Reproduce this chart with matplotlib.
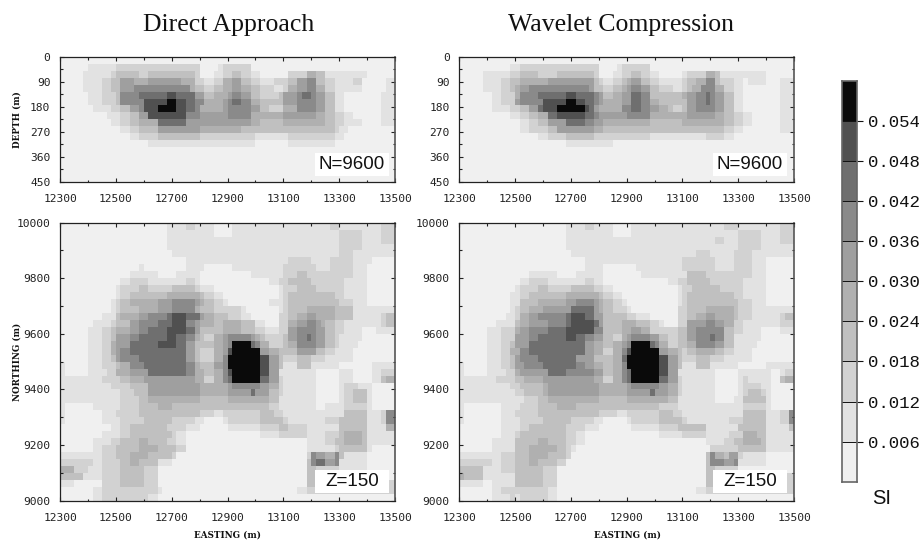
import numpy as np
import matplotlib
matplotlib.use('Agg')
import matplotlib.pyplot as plt
from matplotlib.colors import ListedColormap, BoundaryNorm

# every row: first level, then level@column where it changes (72 columns)
N_COLS = 72

section_direct = [
    "0",
    "0 1@6 2@12 0@30 1@34 2@35 0@41",
    "0 1@5 2@11 3@12 2@17 3@19 2@29 0@30 1@33 2@35 3@37 2@39 1@41 0@43 2@49 4@53 3@55 1@57 0@66",
    "0 1@5 2@9 3@11 5@13 4@16 5@19 4@26 2@29 1@31 2@33 4@35 5@37 3@39 2@41 1@43 2@46 3@49 5@51 6@53 3@55 2@57 1@59 2@63 0@65 1@70",
    "0 1@5 2@9 3@11 5@13 6@16 4@28 3@29 2@31 3@33 4@35 5@37 4@39 3@41 2@43 1@46 2@48 4@49 5@51 6@53 4@55 2@57 1@59 0@65 1@70",
    "0 1@6 2@9 3@12 6@13 7@17 8@23 7@25 5@29 3@31 4@33 5@36 6@37 5@39 3@41 2@43 3@47 5@48 6@51 7@52 6@54 5@55 3@57 1@59 0@61 1@69",
    "0 1@6 2@9 3@12 6@13 8@18 9@23 8@25 7@27 6@29 4@31 5@35 6@36 7@37 6@39 4@41 3@43 5@48 6@51 5@55 3@57 1@59 0@61 1@69",
    "0 1@7 2@11 3@13 5@15 6@17 8@18 9@21 8@25 7@27 6@29 4@30 5@35 6@36 5@41 3@43 2@45 4@48 6@51 5@55 3@57 1@59 0@61 1@69",
    "0 1@10 2@13 3@15 5@17 8@19 6@27 5@30 6@36 4@41 5@48 4@55 3@57 2@59 1@61 0@63 1@69",
    "0 1@11 2@13 3@15 4@17 7@21 5@27 4@41 3@43 4@48 3@57 2@59 1@61 0@65 1@69",
    "0 1@13 2@15 3@17 5@21 4@30 3@39 2@59 1@60 0@62",
    "0 1@15 2@17 3@21 2@30 1@42 2@49 1@59 0@61",
    "0 1@19 0@42 1@49 0@59",
    "0", "0", "0", "0", "0",
]

section_wavelet = [
    "0",
    "0 1@11 2@13 0@30 1@34 2@35 0@41",
    "0 1@5 2@11 3@13 2@17 3@21 2@29 0@30 1@33 2@35 3@37 2@39 1@41 0@43 1@48 2@49 4@53 3@55 1@56 0@66",
    "0 1@5 2@9 3@11 4@13 5@19 3@29 2@30 1@31 2@33 3@35 4@36 5@37 3@39 2@41 1@43 2@48 3@49 4@51 6@53 3@55 2@56 1@59 0@61 1@62 0@66 1@69",
    "0 1@5 2@9 3@11 4@12 5@13 6@15 5@28 3@29 2@31 3@33 4@35 5@36 6@37 5@39 3@41 2@43 1@46 2@48 3@49 4@50 6@52 4@55 2@57 1@59 0@61 1@69",
    "0 1@7 2@9 4@12 6@13 7@17 8@23 7@25 6@29 5@30 3@31 4@33 5@35 7@37 6@39 3@41 4@48 5@49 6@51 7@53 6@54 5@55 3@57 1@59 0@61 1@69",
    "0 1@7 2@9 5@12 6@13 8@18 9@23 8@25 7@27 6@29 5@30 4@31 5@35 7@37 6@39 4@41 3@43 5@49 6@51 7@53 6@54 5@55 3@57 1@59 0@61 1@69",
    "0 1@7 2@11 3@13 5@15 7@17 8@18 9@21 8@27 7@28 5@29 4@30 6@35 7@37 6@39 5@41 4@43 3@45 2@46 3@48 5@49 6@51 5@55 3@57 1@59 0@61 1@69",
    "0 1@11 2@13 3@15 4@17 7@19 8@21 7@27 6@29 5@30 6@36 4@41 5@49 4@55 3@57 2@59 1@61 0@63 1@69",
    "0 1@13 2@15 3@17 5@19 7@23 6@27 5@29 4@31 3@41 4@48 3@57 2@59 1@61 0@63 1@69",
    "0 1@13 2@15 3@19 5@21 4@29 3@31 2@57 1@59 0@61 1@69",
    "0 1@17 2@19 3@23 2@29 1@41 2@53 1@57 0@59",
    "0 1@23 0@33",
    "0", "0", "0", "0", "0",
]

plan_direct = [
    "0 1@23 2@27 1@29 0@33 1@37 2@58 1@60 2@69",
    "0 1@23 0@33 1@37 2@60 1@65 2@69",
    "0 1@23 2@60 1@65 2@69",
    "0 1@23 2@60 1@65",
    "0 1@24 2@60 1@63",
    "0 1@27 2@49 1@54 2@58 1@63 0@67",
    "0 1@17 0@18 1@27 0@31 1@37 2@48 1@55 2@58 1@63 0@66",
    "0 1@15 0@21 1@25 0@30 1@41 2@48 3@51 2@53 1@63 0@66",
    "0 1@13 2@15 1@19 2@27 1@29 0@30 1@45 2@47 3@49 2@54 1@61 0@66",
    "0 1@12 2@13 3@17 2@19 3@24 2@29 1@30 0@33 1@47 2@48 3@51 2@55 1@61 0@66",
    "0 1@12 2@13 3@15 4@23 3@30 2@31 1@33 0@35 1@47 2@48 3@49 2@59 1@61 0@66",
    "0 1@11 2@12 3@13 4@15 5@21 6@24 5@29 4@30 3@31 2@33 1@35 0@36 1@45 2@48 3@49 2@60 1@63 0@66",
    "0 1@11 2@12 3@13 4@17 5@21 6@24 4@29 3@30 2@33 1@39 0@40 1@47 2@48 3@49 3@51 4@53 3@59 1@63",
    "0 1@9 3@12 4@13 5@17 6@19 7@23 8@24 7@27 5@30 4@31 3@33 2@36 1@39 0@41 2@47 3@49 4@51 5@53 4@55 3@59 1@63 2@69 3@70",
    "0 1@7 2@11 3@12 5@15 6@17 7@21 8@24 6@27 5@29 4@30 3@33 4@35 3@39 1@42 0@44 2@47 4@49 5@51 6@53 5@55 4@56 3@57 2@59 1@61 2@69 3@70",
    "0 1@6 2@9 3@11 4@12 5@15 6@17 7@19 8@23 7@27 5@29 3@30 4@35 3@39 2@42 1@44 2@47 5@49 6@51 5@55 3@57 2@59 1@61 0@65 1@68",
    "0 1@6 2@9 3@11 5@12 6@15 7@17 8@23 7@25 6@27 4@29 3@30 2@31 4@33 5@35 6@36 5@41 4@42 3@43 2@44 3@48 5@49 6@51 7@53 6@54 5@55 3@57 2@59 1@60 0@65",
    "0 1@6 2@9 4@11 5@12 7@15 8@21 7@25 5@27 3@29 4@33 5@35 6@36 9@37 7@41 6@42 4@43 2@45 3@48 4@49 6@51 5@55 3@57 2@59 1@60 0@64",
    "0 1@6 2@9 4@11 5@12 6@13 7@15 5@27 3@29 2@30 4@33 5@35 8@36 9@37 5@43 4@45 3@47 5@51 3@55 2@57 1@59 0@63",
    "0 1@6 2@9 3@11 5@12 6@13 7@17 5@27 3@29 2@30 4@33 6@35 9@36 8@43 5@45 3@47 2@48 3@51 2@54 1@57 0@63",
    "1 0@1 1@6 2@9 3@12 4@13 6@15 7@18 6@27 4@29 3@30 5@33 6@35 9@36 8@43 5@45 3@47 1@48 3@51 1@54 0@60 1@67",
    "1 0@1 1@6 2@10 4@12 5@15 7@19 6@27 4@29 3@31 4@33 6@35 8@36 9@37 8@43 5@45 1@47 0@55 1@60 0@63 1@67 2@69",
    "1 2@9 3@13 4@15 5@18 4@29 2@31 4@33 6@35 7@36 9@37 7@43 5@45 2@47 1@48 0@55 1@60 0@63 1@67 3@69 4@70",
    "1 2@11 3@15 5@19 4@30 5@36 6@37 5@43 4@45 2@47 1@48 0@55 1@60 2@61 1@64 0@67",
    "1 2@13 3@16 5@19 4@30 5@36 7@41 5@42 3@45 2@47 1@48 0@55 1@60 2@61 3@63 1@66 0@67",
    "1 2@13 3@17 4@19 3@30 4@36 3@45 1@47 0@55 1@60 2@61 3@63 1@66 0@67",
    "1 0@1 1@7 2@13 3@17 4@21 3@24 2@45 1@47 0@55 1@57 2@61 1@66 0@67",
    "1 0@1 1@9 2@12 3@17 2@30 1@33 2@35 3@43 2@46 1@48 3@61 1@66 2@69 6@70",
    "1 0@1 1@9 2@13 3@18 2@24 1@29 0@31 1@35 2@36 3@43 2@48 1@49 2@57 3@60 1@66 2@69 6@70",
    "0 1@11 2@13 3@15 2@23 1@27 0@30 1@36 2@43 3@47 2@49 1@53 3@60 1@66 4@70",
    "0 1@9 2@13 3@15 2@24 1@25 0@27 1@43 2@47 1@53 2@57 3@60 4@61 3@65 1@66",
    "0 1@7 2@11 3@13 4@17 3@19 2@23 1@25 0@27 1@53 2@57 3@59 4@61 3@65 1@66",
    "0 1@7 2@9 3@12 4@17 3@21 2@25 0@27 1@53 2@59 3@60 1@66 0@67",
    "1 2@9 3@12 4@15 3@19 2@24 0@25 2@53 6@54 5@55 4@57 6@59 3@60 1@61 0@66",
    "2 1@7 2@9 3@13 4@15 3@17 1@21 0@24 3@53 6@54 7@55 5@57 6@59 1@60 0@66",
    "4 2@3 1@6 2@9 3@13 2@18 0@21 3@53 2@55 1@60 0@66",
    "3 1@5 2@9 3@13 2@18 0@21 3@53 2@55 0@60",
    "1 0@3 2@9 3@13 2@18 0@21 3@53 2@55",
    "0 1@7 2@9 1@21 0@22 1@51 2@53",
    "0 1@7 2@9 1@19 0@21",
]

plan_wavelet = [
    "0 1@23 2@27 1@29 0@33 1@37 2@57 1@60 2@69",
    "0 1@23 0@33 1@37 2@60 1@65 2@69",
    "0 1@23 2@55 1@57 2@60 1@65 2@69",
    "0 1@23 2@60 1@65",
    "0 1@24 2@51 1@54 2@59 1@63",
    "0 1@27 2@48 1@55 2@59 1@63 0@66",
    "0 1@27 0@31 1@38 2@48 1@55 2@59 1@63 0@66",
    "0 1@15 0@21 1@25 0@31 1@39 3@49 2@53 1@63 0@66",
    "0 1@13 2@15 1@19 2@27 1@29 0@31 1@45 2@47 3@49 2@54 1@61 0@66",
    "0 1@12 2@13 3@17 2@19 3@24 2@29 1@31 0@33 1@47 2@48 3@50 2@56 1@61 0@66",
    "0 1@11 2@13 3@15 4@23 3@30 2@31 1@33 0@35 1@47 2@48 3@49 2@59 1@61 0@66",
    "0 1@11 3@13 4@17 5@23 6@25 5@29 4@30 3@31 2@33 1@35 0@36 1@47 2@48 3@49 2@60 1@63 0@66",
    "0 1@11 2@12 3@13 4@15 5@18 7@24 5@29 4@30 3@31 2@33 1@36 0@37 2@47 3@49 4@53 3@59 2@60 1@63",
    "0 1@10 2@12 4@13 5@15 6@17 7@23 8@24 7@27 5@29 3@31 2@36 1@38 0@41 2@47 3@49 4@51 5@53 4@55 3@59 2@60 1@63 2@69 3@70",
    "0 1@8 3@12 4@13 5@15 6@19 7@23 8@24 7@29 5@30 3@31 4@35 3@38 2@41 1@43 0@44 2@47 5@49 6@53 5@55 4@57 2@59 1@61 2@69",
    "0 1@6 2@9 4@12 5@13 6@15 7@19 8@23 6@29 3@31 4@35 5@37 4@39 2@41 3@47 5@49 6@51 3@57 2@59 1@61 0@65 1@69",
    "0 1@6 2@9 5@12 6@15 7@17 8@23 7@25 6@27 5@29 3@31 2@33 4@35 5@36 6@37 5@41 3@43 2@45 3@47 5@49 6@51 7@54 6@55 3@57 1@59 0@65",
    "0 1@6 2@9 3@11 5@12 7@15 5@27 4@29 3@31 4@33 5@35 6@36 9@37 7@41 6@42 4@43 2@45 3@47 4@49 6@51 5@55 3@57 1@59 0@64",
    "0 1@6 2@9 4@11 6@13 7@15 5@27 4@29 2@31 4@33 6@35 8@36 9@37 5@43 4@45 3@47 2@48 3@49 4@51 3@55 2@57 1@59 0@63",
    "0 1@6 2@9 3@11 5@12 6@13 7@17 5@25 3@29 4@33 7@35 9@36 8@43 5@45 3@47 2@48 3@51 2@54 1@57 0@63",
    "1 0@1 1@6 2@9 3@11 5@12 6@14 7@18 6@25 5@27 4@29 3@31 4@33 6@35 9@36 8@43 5@45 3@47 1@48 3@51 1@54 0@60 1@66",
    "1 0@1 1@6 2@10 4@12 5@13 7@19 6@23 5@29 3@31 4@33 6@35 7@36 9@37 8@43 5@45 1@47 0@55 1@60 0@67 1@69 2@70",
    "1 2@8 3@12 4@14 5@18 4@29 2@31 4@33 6@35 7@36 9@37 7@43 5@45 2@47 1@48 0@55 1@60 2@61 1@62 0@67 3@69 4@70",
    "1 2@11 3@13 4@18 5@19 4@30 5@36 6@37 5@43 4@45 2@47 1@48 0@55 1@60 2@61 1@65 0@67",
    "1 2@12 3@14 4@18 5@19 4@30 5@36 7@41 5@42 4@45 2@47 1@48 0@55 1@60 2@61 3@62 2@65 1@66 0@67",
    "1 2@14 3@17 4@19 3@30 4@36 3@45 1@47 0@55 1@59 3@61 1@66 0@67",
    "1 0@1 1@9 2@13 3@17 4@21 3@25 2@43 1@47 2@61 1@66 0@67",
    "1 0@1 1@9 2@12 3@17 2@30 1@34 2@36 3@43 2@46 1@48 3@61 1@66 2@69 6@71",
    "1 0@1 1@9 2@13 3@18 2@24 1@29 0@31 1@36 2@37 3@43 2@48 1@49 2@58 3@61 1@66 2@69 6@71",
    "0 1@9 2@13 3@15 2@23 1@27 0@30 1@37 2@43 3@47 1@53 3@60 1@66 3@71",
    "0 1@9 2@12 3@13 2@23 1@25 0@27 1@43 2@48 1@53 2@58 4@61 3@64 1@66",
    "0 1@7 3@12 4@17 3@19 2@23 1@25 0@27 1@53 2@57 3@59 4@61 3@65 1@66",
    "0 1@7 3@12 4@15 3@21 2@23 1@24 0@25 2@54 3@60 1@66",
    "1 2@9 3@12 4@15 3@19 2@23 0@24 3@53 6@54 4@55 3@57 5@58 2@60 1@61 0@66",
    "2 1@7 2@9 3@12 4@15 3@17 2@21 0@23 3@53 6@54 5@57 6@59 1@60 0@66",
    "3 1@5 2@9 3@12 2@18 0@21 3@53 2@55 0@60",
    "4 3@1 1@5 3@12 2@18 0@21 3@53 2@55",
    "1 0@5 1@7 3@12 2@18 0@21 3@53 2@55",
    "0 1@7 2@9 1@19 0@21 1@51 2@53",
    "0 1@7 2@11 1@12 2@13 1@19 0@21",
]

gray_levels = ['#f0f0f0', '#e2e2e2', '#d2d2d2', '#c0c0c0', '#b0b0b0',
               '#9f9f9f', '#8a8a8a', '#6f6f6f', '#505050', '#0a0a0a']
si_bounds = [0.0, 0.006, 0.012, 0.018, 0.024, 0.030, 0.036, 0.042, 0.048, 0.054, 0.060]
si_ticks = [0.006, 0.012, 0.018, 0.024, 0.030, 0.036, 0.042, 0.048, 0.054]

easting_ticks = [12300, 12500, 12700, 12900, 13100, 13300, 13500]
depth_ticks = [0, 90, 180, 270, 360, 450]
northing_ticks = [9000, 9200, 9400, 9600, 9800, 10000]

W, H = 924, 542
cmap = ListedColormap(gray_levels)
norm = BoundaryNorm(si_bounds, cmap.N)
MONO = 'DejaVu Sans Mono'


def parse_rows(rows):
    grid = np.zeros((len(rows), N_COLS))
    for i, row in enumerate(rows):
        parts = row.split()
        grid[i, :] = int(parts[0])
        for part in parts[1:]:
            level, col = part.split('@')
            grid[i, int(col):] = int(level)
    return (grid + 0.5) * 0.006


def add_axes_px(left, top, right, bottom):
    return fig.add_axes([left / W, 1 - bottom / H, (right - left) / W, (bottom - top) / H])


def draw_panel(ax, rows, y_top, y_bottom, y_major, y_minor, note, note_xy):
    grid = parse_rows(rows)
    x_edges = np.linspace(easting_ticks[0], easting_ticks[-1], N_COLS + 1)
    y_edges = np.linspace(y_top, y_bottom, len(rows) + 1)
    ax.pcolormesh(x_edges, y_edges, grid, cmap=cmap, norm=norm, rasterized=True)
    ax.set_xlim(easting_ticks[0], easting_ticks[-1])
    ax.set_ylim(y_bottom, y_top)
    ax.set_xticks(easting_ticks)
    ax.set_xticks(np.arange(12400, 13500, 200), minor=True)
    ax.set_yticks(y_major)
    ax.set_yticks(y_minor, minor=True)
    ax.tick_params(which='major', direction='in', top=True, right=True, length=3.2,
                   width=0.8, color='#222222', labelsize=8.1, pad=7)
    ax.tick_params(which='minor', direction='in', top=True, right=True, length=1.8,
                   width=0.8, color='#222222')
    ax.tick_params(axis='x', which='major', pad=9)
    for label in ax.get_xticklabels() + ax.get_yticklabels():
        label.set_family(MONO)
        label.set_color('#222222')
    for spine in ax.spines.values():
        spine.set_linewidth(0.9)
        spine.set_color('#222222')
    ax.spines['right'].set_color('#555555')
    ax.spines['right'].set_linewidth(1.2)
    box = plt.Rectangle(((note_xy[0] - 37) / W, 1 - (note_xy[1] + 11.5) / H), 74 / W, 23 / H,
                        transform=fig.transFigure, fc='white', ec='none', zorder=5)
    ax.add_patch(box)
    ax.text(note_xy[0] / W, 1 - note_xy[1] / H, note, transform=fig.transFigure,
            family='Liberation Sans', fontsize=13.5, ha='center', va='center',
            color='#111111', zorder=6)


fig = plt.figure(figsize=(W / 100, H / 100), dpi=100)

ax_a = add_axes_px(60, 57, 395, 181.7)
ax_b = add_axes_px(459.3, 57, 794, 181.7)
ax_c = add_axes_px(60, 222.7, 395, 500.7)
ax_d = add_axes_px(459.3, 222.7, 794, 500.7)

draw_panel(ax_a, section_direct, 0, 450, depth_ticks, np.arange(45, 450, 90), 'N=9600', (352, 164.5))
draw_panel(ax_b, section_wavelet, 0, 450, depth_ticks, np.arange(45, 450, 90), 'N=9600', (750, 164.5))
draw_panel(ax_c, plan_direct, 10000, 9000, northing_ticks, np.arange(9100, 10000, 200), 'Z=150', (352, 481.5))
draw_panel(ax_d, plan_wavelet, 10000, 9000, northing_ticks, np.arange(9100, 10000, 200), 'Z=150', (750, 481.5))

fig.text(229 / W, 1 - 25.5 / H, 'Direct Approach', family='Liberation Serif', fontsize=18.5,
         ha='center', va='center', color='#111111')
fig.text(621.5 / W, 1 - 25.5 / H, 'Wavelet Compression', family='Liberation Serif', fontsize=18.5,
         ha='center', va='center', color='#111111')

axis_label = dict(family='DejaVu Serif', weight='bold', fontsize=6.3, ha='center',
                  va='center', color='#111111')
fig.text(17 / W, 1 - 120 / H, 'DEPTH (m)', rotation=90, **axis_label)
fig.text(17 / W, 1 - 362 / H, 'NORTHING (m)', rotation=90, **axis_label)
fig.text(228 / W, 1 - 535 / H, 'EASTING (m)', **axis_label)
fig.text(627 / W, 1 - 535 / H, 'EASTING (m)', **axis_label)

# colour bar
cax = add_axes_px(842, 80.5, 857.3, 481.8)
cax.pcolormesh([0, 1], si_bounds, np.array(si_bounds[:-1])[:, None] + 0.003, cmap=cmap, norm=norm)
cax.set_xlim(0, 1)
cax.set_ylim(si_bounds[0], si_bounds[-1])
cax.set_xticks([])
cax.yaxis.tick_right()
cax.set_yticks(si_ticks)
cax.set_yticklabels([f'{v:.3f}' for v in si_ticks], family='Liberation Mono', fontsize=12.5,
                    color='#111111')
cax.tick_params(axis='y', length=4, width=0.8, color='#111111', pad=3.5)
for v in si_ticks:
    cax.axhline(v, color='#111111', lw=0.7)
for spine in cax.spines.values():
    spine.set_color('#666666')
    spine.set_linewidth(1.2)
fig.text(881.5 / W, 1 - 498.5 / H, 'SI', family='Liberation Sans', fontsize=14.5, ha='center',
         va='center', color='#111111')

fig.savefig('out.png', dpi=100)
